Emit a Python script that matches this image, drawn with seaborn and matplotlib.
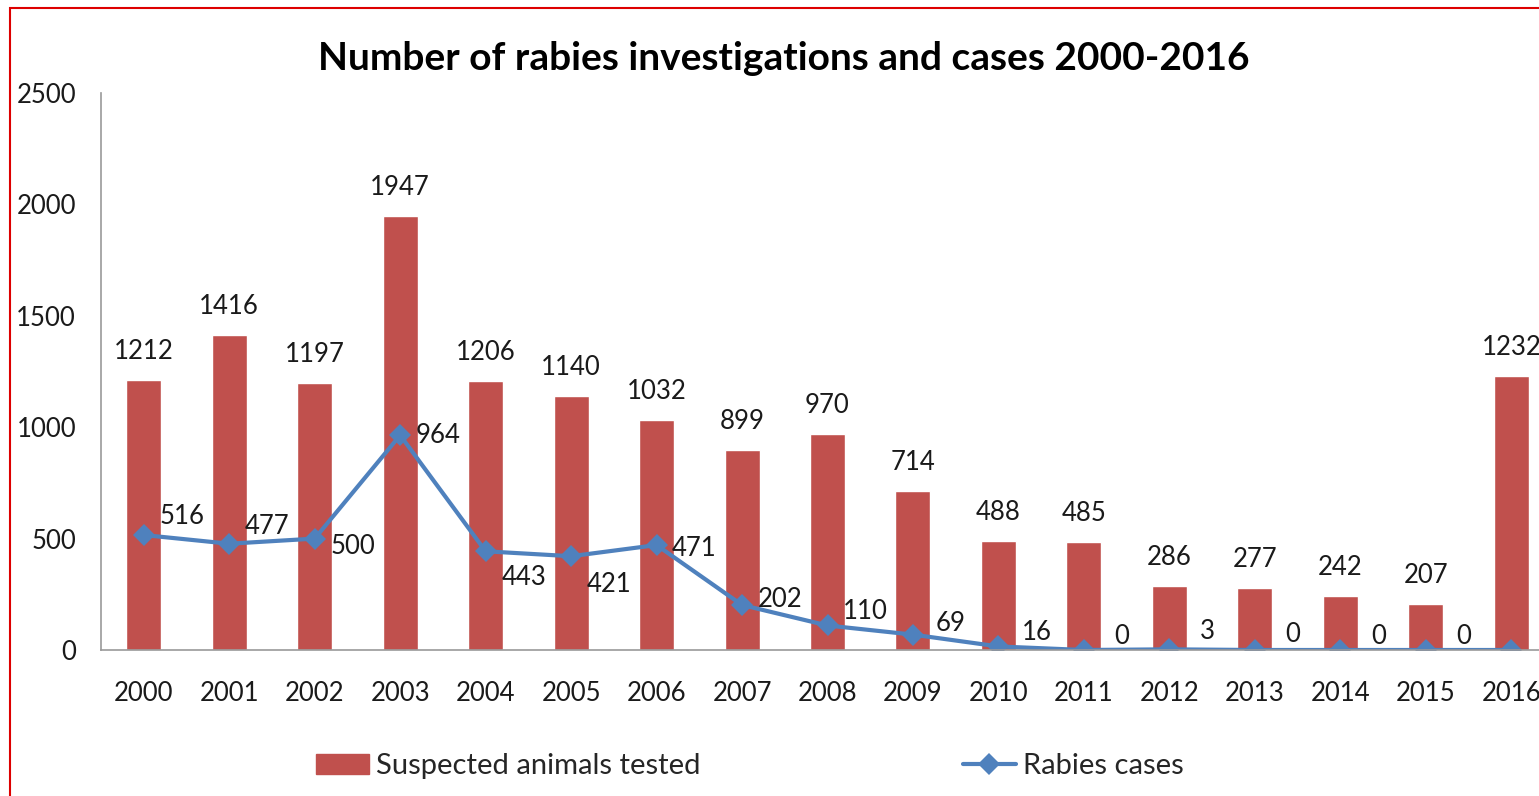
import numpy as np
import pandas as pd
import matplotlib
matplotlib.use("Agg")
import matplotlib.pyplot as plt
import seaborn as sns
from matplotlib.patches import Rectangle
from matplotlib.lines import Line2D
from matplotlib.patches import Patch

years = [str(y) for y in range(2000, 2017)]
tested = [1212, 1416, 1197, 1947, 1206, 1140, 1032, 899, 970, 714,
          488, 485, 286, 277, 242, 207, 1232]
cases = [516, 477, 500, 964, 443, 421, 471, 202, 110, 69,
         16, 0, 3, 0, 0, 0, 0]

bar_color = "#C0504D"
line_color = "#4F81BD"
# vertical nudges (pixels) of the case labels, Excel moved some of them
case_dy = [19, 17, -8, 0, -26, -28, -3, 5, 14, 11, 14, 14, 18, 16, 14, 14, 14]

sns.set_theme(style="white")
plt.rcParams['font.family'] = ['Lato', 'DejaVu Sans']

df = pd.DataFrame({"year": years, "tested": tested, "cases": cases})

fig = plt.figure(figsize=(15.39, 7.96), dpi=100)
ax = fig.add_axes([101 / 1539, 146 / 796, 1453 / 1539, 557 / 796])

sns.barplot(data=df, x="year", y="tested", color=bar_color, width=0.41,
            saturation=1, ax=ax)
sns.lineplot(x=np.arange(len(years)), y=df["cases"], color=line_color,
             linewidth=3, marker="D", markersize=11, markeredgewidth=0, ax=ax)

fs = 18.5
ax.set_xlim(-0.5, len(years) - 0.5)
ax.set_ylim(0, 2500)
ax.set_yticks(range(0, 2501, 500))
ax.set_xlabel("")
ax.set_ylabel("")
ax.tick_params(axis="both", length=0, labelsize=fs, colors="#1a1a1a")
ax.tick_params(axis="y", pad=18)
ax.tick_params(axis="x", pad=22)
for side in ["top", "right"]:
    ax.spines[side].set_visible(False)
for side in ["left", "bottom"]:
    ax.spines[side].set_color("#999999")
    ax.spines[side].set_linewidth(1.2)

for i, v in enumerate(tested):
    ax.annotate(str(v), (i, v), xytext=(0, 16), textcoords="offset pixels",
                ha="center", va="bottom", fontsize=fs, color="#1a1a1a")
for i, v in enumerate(cases):
    ax.annotate(str(v), (i, v), xytext=(38, case_dy[i]), textcoords="offset pixels",
                ha="center", va="center", fontsize=fs, color="#1a1a1a",
                annotation_clip=False)

fig.text(784 / 1539, 1 - 58 / 796, "Number of rabies investigations and cases 2000-2016",
         ha="center", va="center", fontsize=28, fontweight="bold", color="black")

handles = [Patch(facecolor=bar_color, edgecolor=bar_color),
           Line2D([0], [0], color=line_color, linewidth=3, marker="D",
                  markersize=11, markeredgewidth=0)]
fig.legend(handles, ["Suspected animals tested", "Rabies cases"],
           loc="center", bbox_to_anchor=(750 / 1539, 1 - 766 / 796), ncol=2,
           frameon=False, fontsize=21, columnspacing=9, handlelength=1.8,
           handletextpad=0.25)

fig.patches.append(Rectangle((10 / 1539, -0.1), 1.2, 1 - 8 / 796 + 0.1,
                             transform=fig.transFigure, fill=False,
                             edgecolor="#DD0000", linewidth=1.5))

plt.savefig("out.png", dpi=100)
